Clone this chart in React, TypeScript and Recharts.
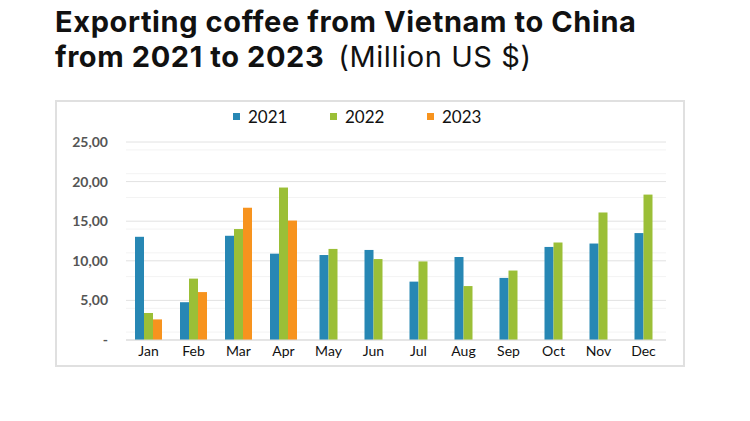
import { BarChart, Bar, XAxis, YAxis, CartesianGrid, Legend } from 'recharts';

const months = ['Jan', 'Feb', 'Mar', 'Apr', 'May', 'Jun', 'Jul', 'Aug', 'Sep', 'Oct', 'Nov', 'Dec'];
const y2021 = [13.03, 4.77, 13.16, 10.9, 10.73, 11.37, 7.37, 10.48, 7.84, 11.75, 12.18, 13.5];
const y2022 = [3.41, 7.75, 14.01, 19.25, 11.5, 10.22, 9.92, 6.81, 8.77, 12.31, 16.1, 18.36];
const y2023 = [2.6, 6.05, 16.7, 15.08, null, null, null, null, null, null, null, null];
const yTicks = [0, 5, 10, 15, 20, 25];
const minorTicks = [1, 2, 3, 4, 6, 7, 8, 9, 11, 12, 13, 14, 16, 17, 18, 19, 21, 22, 23, 24];

const data = months.map((m, i) => ({ month: m, y2021: y2021[i], y2022: y2022[i], y2023: y2023[i] }));

const series = [
	{ key: 'y2021', name: '2021', color: '#2787b4' },
	{ key: 'y2022', name: '2022', color: '#9bbf37' },
	{ key: 'y2023', name: '2023', color: '#f7931e' },
];

// months without 2023 data get their two bars centred in the band
const centredBar = (color: string) => (props: any) => {
	const { x, y, width, height, payload } = props;
	if (!height || height <= 0) return null;
	const shift = payload && payload.y2023 == null ? width / 2 : 0;
	return <rect x={x + shift} y={y} width={width} height={height} fill={color} />;
};

const LegendContent = () => (
	<div style={{ display: 'flex', paddingLeft: 176, fontFamily: 'Lato, sans-serif', fontSize: 17, color: '#111' }}>
		{series.map((s) => (
			<span key={s.key} style={{ display: 'flex', alignItems: 'center', width: 97 }}>
				<span style={{ width: 7, height: 7, background: s.color, display: 'inline-block', marginRight: 8 }} />
				{s.name}
			</span>
		))}
	</div>
);

export default function App() {
	return (
		<div style={{ position: 'absolute', left: 0, top: 0, width: 750, height: 421, background: '#fff' }}>
			<div style={{ position: 'absolute', left: 55, top: 4, fontFamily: 'Inter, sans-serif', fontSize: 29, lineHeight: '35px', fontWeight: 700, color: '#111', letterSpacing: 0.6, whiteSpace: 'nowrap' }}>
				Exporting coffee from Vietnam to China
				<br />
				from 2021 to 2023
				<span style={{ fontWeight: 400, marginLeft: 14 }}>(Million US $)</span>
			</div>
			<div style={{ position: 'absolute', left: 55, top: 100, width: 626, height: 263, border: '2px solid #e0e0e0' }}>
				<BarChart
					width={626}
					height={263}
					data={data}
					margin={{ top: 19, right: 17, bottom: 3, left: 9 }}
					barCategoryGap='20%'
					barGap={0}
				>
					<Legend verticalAlign='top' content={<LegendContent />} wrapperStyle={{ top: 4, left: 0, width: 626 }} />
					<CartesianGrid vertical={false} stroke='#f3f3f3' horizontalValues={minorTicks} />
					<CartesianGrid vertical={false} stroke='#e2e2e2' />
					<XAxis
						dataKey='month'
						height={22}
						tickLine={false}
						axisLine={{ stroke: '#d9d9d9' }}
						tick={{ fill: '#111', fontSize: 14, fontFamily: 'Lato, sans-serif', dy: -2 }}
						interval={0}
					/>
					<YAxis
						width={60}
						domain={[0, 25]}
						ticks={yTicks}
						tickLine={false}
						axisLine={false}
						tickMargin={12}
						tick={{ fill: '#555', fontSize: 14, fontFamily: 'Lato, sans-serif', fontWeight: 700 }}
						tickFormatter={(v: number) => (v === 0 ? '-' : v.toFixed(2).replace('.', ','))}
					/>
					{series.map((s) => (
						<Bar key={s.key} dataKey={s.key} name={s.name} fill={s.color} isAnimationActive={false} shape={centredBar(s.color)} />
					))}
				</BarChart>
			</div>
		</div>
	);
}
